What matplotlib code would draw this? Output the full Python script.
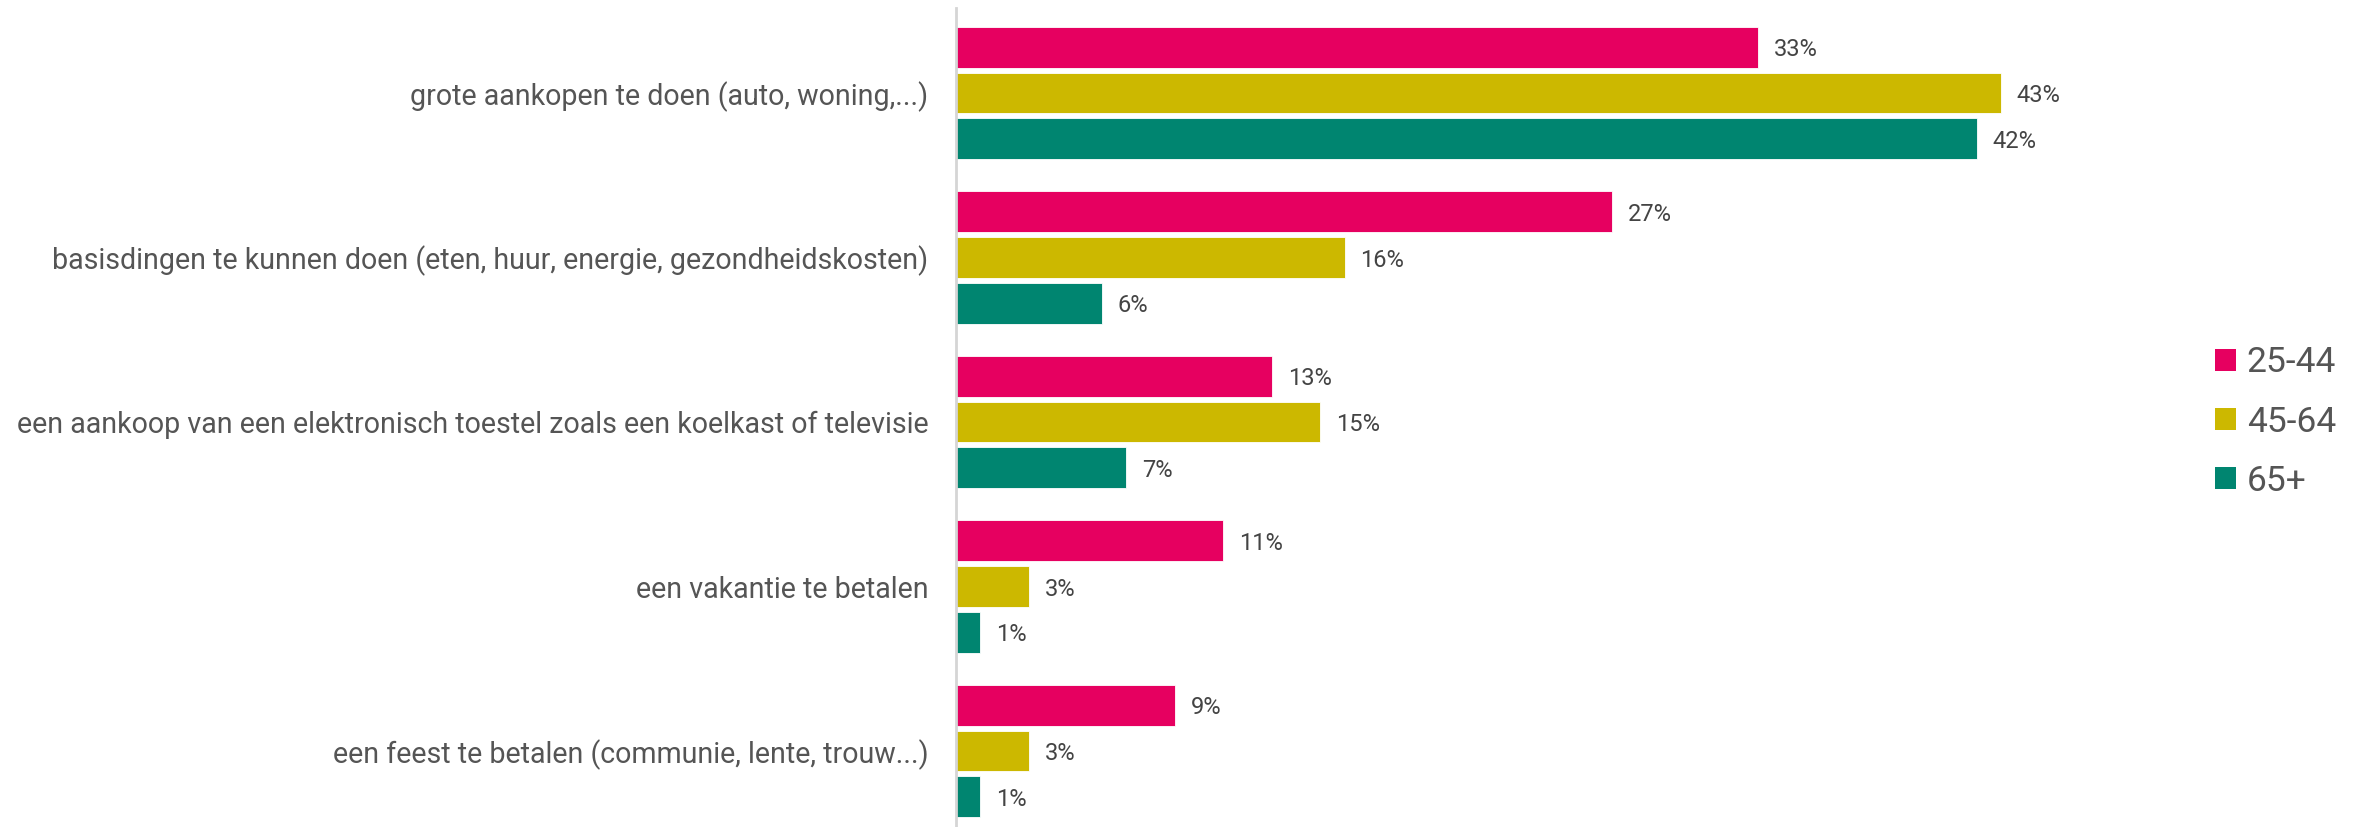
import matplotlib.pyplot as plt
import numpy as np
from matplotlib.patches import Patch

categories = [
    "grote aankopen te doen (auto, woning,...)",
    "basisdingen te kunnen doen (eten, huur, energie, gezondheidskosten)",
    "een aankoop van een elektronisch toestel zoals een koelkast of televisie",
    "een vakantie te betalen",
    "een feest te betalen (communie, lente, trouw...)",
]
groups = ["25-44", "45-64", "65+"]
vals_25_44 = [33, 27, 13, 11, 9]
vals_45_64 = [43, 16, 15, 3, 3]
vals_65plus = [42, 6, 7, 1, 1]
colors = ["#E60060", "#CCB800", "#008570"]

plt.rcParams['font.family'] = ['Roboto', 'DejaVu Sans']
text_col = "#555555"

fig = plt.figure(figsize=(23.69, 8.27), dpi=100)
ax = fig.add_axes([956 / 2369, 0, 1142 / 2369, 1 - 8 / 827])

y = np.arange(len(categories))
step = 0.278
height = 0.248
series = [vals_25_44, vals_45_64, vals_65plus]
for k, (vals, col) in enumerate(zip(series, colors)):
    pos = y + (k - 1) * step
    ax.barh(pos, vals, height=height, color=col, edgecolor='white', linewidth=0.6)
    for p, v in zip(pos, vals):
        ax.text(v + 0.65, p, f"{v}%", va='center_baseline', ha='left', fontsize=17, color="#444444")

ax.set_xlim(0, 47)
ax.set_ylim(4.462, -0.517)
ax.set_yticks(y)
ax.set_yticklabels(categories, fontsize=20.6, color=text_col)
ax.tick_params(axis='y', length=0, pad=20)
ax.set_xticks([])
for s in ['top', 'right', 'bottom']:
    ax.spines[s].set_visible(False)
ax.spines['left'].set_color('#d5d5d5')
ax.spines['left'].set_linewidth(2)

handles = [Patch(facecolor=c, edgecolor='none') for c in colors]
fig.legend(handles, groups, loc='center left', bbox_to_anchor=(2183 / 2369, 1 - 422 / 827),
           frameon=False, fontsize=25.5, labelcolor=text_col, handlelength=0.6, handleheight=0.6,
           handletextpad=0.3, labelspacing=0.74)

fig.savefig("out.png", dpi=100)
